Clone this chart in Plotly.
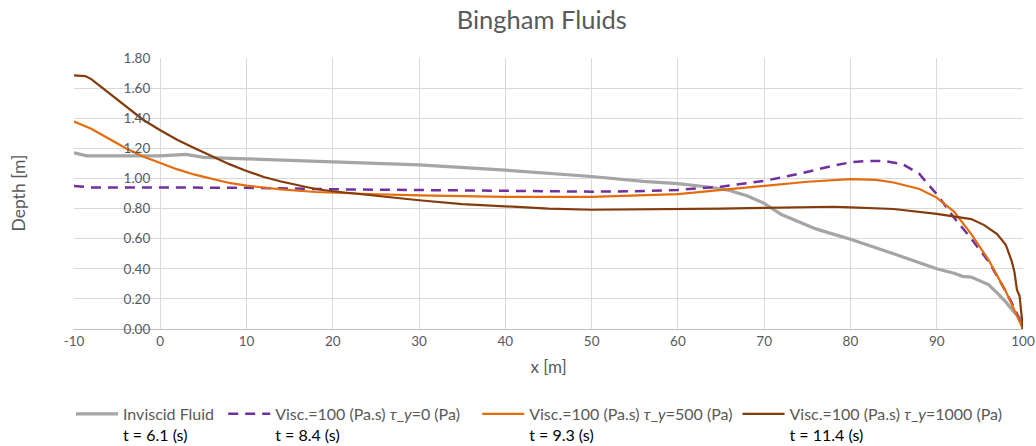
import plotly.graph_objects as go

# Free-surface depth profiles along the channel, Bingham fluid runs
x_inviscid = [-10, -8.5, -4, 0, 3, 5, 10, 20, 30, 40, 50, 56, 60, 64, 66, 68, 70, 72, 74, 76, 78, 80, 85, 90, 92, 93, 94, 95, 96, 97, 98, 99, 100]
y_inviscid = [1.17, 1.15, 1.15, 1.15, 1.16, 1.14, 1.13, 1.11, 1.09, 1.055, 1.013, 0.98, 0.965, 0.94, 0.92, 0.885, 0.835, 0.76, 0.71, 0.665, 0.63, 0.596, 0.5, 0.4, 0.37, 0.35, 0.345, 0.32, 0.295, 0.24, 0.18, 0.11, 0.05]

x_ty0 = [-10, -8, 0, 10, 20, 30, 40, 50, 55, 60, 65, 70, 74, 78, 80, 82, 84, 86, 88, 89, 90, 92, 94, 96, 98, 99, 100]
y_ty0 = [0.95, 0.94, 0.94, 0.938, 0.928, 0.925, 0.918, 0.912, 0.915, 0.924, 0.945, 0.984, 1.03, 1.085, 1.107, 1.117, 1.115, 1.096, 1.03, 0.96, 0.896, 0.74, 0.6, 0.45, 0.25, 0.14, 0.0]

x_ty500 = [-10, -8, -6, -4, -2, 0, 2, 4, 6, 8, 10, 14, 18, 20, 25, 30, 40, 50, 55, 60, 66, 70, 75, 80, 83, 85, 88, 90, 92, 94, 96, 98, 100]
y_ty500 = [1.378, 1.33, 1.265, 1.2, 1.145, 1.1, 1.06, 1.025, 0.995, 0.97, 0.952, 0.927, 0.91, 0.905, 0.895, 0.888, 0.878, 0.878, 0.885, 0.896, 0.929, 0.951, 0.978, 0.996, 0.99, 0.973, 0.93, 0.873, 0.78, 0.63, 0.46, 0.25, 0.0]

x_ty1000 = [-10, -8.7, -8, -6, -4, -2, 0, 2, 4, 6, 8, 10, 12, 14, 16, 18, 20, 25, 30, 35, 40, 45, 50, 55, 60, 65, 70, 75, 78, 80, 85, 90, 92, 94, 95.5, 97, 98, 98.7, 99, 99.3, 99.6, 100]
y_ty1000 = [1.685, 1.68, 1.66, 1.57, 1.48, 1.39, 1.32, 1.255, 1.2, 1.145, 1.095, 1.05, 1.01, 0.98, 0.955, 0.93, 0.915, 0.885, 0.855, 0.83, 0.815, 0.8, 0.792, 0.793, 0.797, 0.8, 0.805, 0.808, 0.812, 0.808, 0.797, 0.765, 0.75, 0.73, 0.69, 0.63, 0.56, 0.45, 0.38, 0.26, 0.22, 0.0]

series_names = [
    "Inviscid Fluid",
    "Visc.=100 (Pa.s) <i>τ</i>_<i>y</i>=0 (Pa)",
    "Visc.=100 (Pa.s) <i>τ</i>_<i>y</i>=500 (Pa)",
    "Visc.=100 (Pa.s) <i>τ</i>_<i>y</i>=1000 (Pa)",
]
arrival_times = ["t = 6.1 (s)", "t = 8.4 (s)", "t = 9.3 (s)", "t = 11.4 (s)"]
# extra spacing after each legend entry
legend_padding = [1, 3, 0, 0]

x_ticks = [-10, 0, 10, 20, 30, 40, 50, 60, 70, 80, 90, 100]
y_ticks = [0.0, 0.2, 0.4, 0.6, 0.8, 1.0, 1.2, 1.4, 1.6, 1.8]

FONT = "Lato"
TEXT_GREY = "#595959"


def legend_label(name, t, pad):
    return f"{name}{'&nbsp;' * pad}<br><span style='color:#000000'>{t}</span>"


fig = go.Figure()
styles = [
    dict(color="#A5A5A5", width=3.2),
    dict(color="#7030A0", width=2.5, dash="10px,7px"),
    dict(color="#E46C0A", width=2.2),
    dict(color="#843C0C", width=2.2),
]
data = [(x_inviscid, y_inviscid), (x_ty0, y_ty0), (x_ty500, y_ty500), (x_ty1000, y_ty1000)]
for (xs, ys), name, t, pad, st in zip(data, series_names, arrival_times, legend_padding, styles):
    fig.add_trace(go.Scatter(
        x=xs, y=ys, mode="lines", line=st,
        name=legend_label(name, t, pad),
    ))

fig.update_layout(
    width=1036, height=446,
    margin=dict(l=74, r=13, t=58, b=117, autoexpand=False),
    paper_bgcolor="white", plot_bgcolor="white",
    font=dict(family=FONT, color=TEXT_GREY, size=13),
    title=dict(text="Bingham Fluids", x=0.523, xanchor="center", y=0.955, yanchor="middle",
               font=dict(family=FONT, size=25.5, color=TEXT_GREY)),
    xaxis=dict(
        range=[-10, 100], tickvals=x_ticks, ticktext=[str(v) for v in x_ticks],
        showgrid=True, gridcolor="#D9D9D9", gridwidth=1,
        showline=True, linecolor="#BFBFBF", linewidth=1,
        zeroline=False, ticks="", tickfont=dict(size=13.5, color=TEXT_GREY),
        automargin=False,
        title=dict(text="x [m]", font=dict(size=17, color=TEXT_GREY), standoff=12),
    ),
    yaxis=dict(
        range=[0, 1.8], tickvals=y_ticks, ticktext=[f"{v:.2f}" for v in y_ticks],
        anchor="free", position=1 / 11, automargin=False,
        showgrid=True, gridcolor="#D9D9D9", gridwidth=1,
        showline=False, zeroline=False, ticks="",
        tickfont=dict(size=13.5, color=TEXT_GREY), ticklabelstandoff=10,
    ),
    legend=dict(
        orientation="h", x=71 / 1036, xanchor="left", xref="container",
        y=0.11, yref="container", yanchor="top",
        valign="top", font=dict(size=16, color=TEXT_GREY),
        itemwidth=42, bgcolor="rgba(0,0,0,0)",
    ),
    annotations=[dict(
        text="Depth [m]", xref="paper", yref="paper", x=-0.059, y=0.5,
        xanchor="center", yanchor="middle", textangle=-90, showarrow=False,
        font=dict(family=FONT, size=17.5, color=TEXT_GREY),
    )],
)

fig.write_html("out.html")
